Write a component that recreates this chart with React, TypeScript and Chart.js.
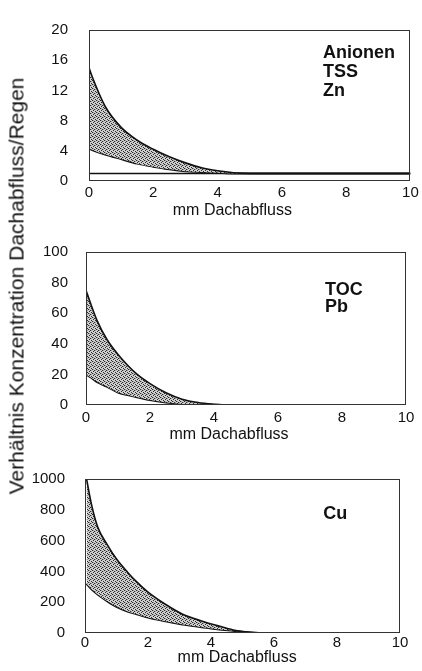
import React, { useEffect, useRef } from "react";
import { Chart, registerables } from "chart.js";

Chart.register(...registerables);

// ---------- data ----------
const xTicks = [0, 2, 4, 6, 8, 10];
const xTitle = "mm Dachabfluss";
const yTitle = "Verhältnis Konzentration Dachabfluss/Regen";

// Panel 1: Anionen / TSS / Zn
const p1Labels = ["Anionen", "TSS", "Zn"];
const p1YTicks = [0, 4, 8, 12, 16, 20];
const p1X = [0, 0.1, 0.5, 1, 1.5, 2, 2.5, 3, 3.5, 4, 4.5, 5, 10];
const p1Upper = [15, 13.8, 9.9, 7.1, 5.4, 4.2, 3.2, 2.4, 1.75, 1.35, 1.1, 1.0, 1.0];
const p1Lower = [4.3, 4.1, 3.5, 2.9, 2.3, 1.9, 1.55, 1.3, 1.2, 1.1, 1.0, 1.0, 1.0];
const p1BaseX = [0, 10];
const p1Base = [1, 1];

// Panel 2: TOC / Pb
const p2Labels = ["TOC", "Pb"];
const p2YTicks = [0, 20, 40, 60, 80, 100];
const p2X = [0, 0.15, 0.35, 0.65, 1, 1.3, 1.6, 2, 2.5, 3, 3.5, 4, 4.4, 10];
const p2Upper = [75, 66, 55, 43, 33, 26, 20, 14, 8, 3.8, 1.6, 0.5, 0, 0];
const p2Lower = [20, 18, 15, 12, 8.2, 6.5, 5, 3.2, 1.7, 0.7, 0.2, 0, 0, 0];

// Panel 3: Cu
const p3Labels = ["Cu"];
const p3YTicks = [0, 200, 400, 600, 800, 1000];
const p3X = [0.05, 0.2, 0.4, 0.7, 1, 1.35, 1.65, 2, 2.6, 3.1, 3.7, 4.2, 4.7, 5.1, 5.6, 10];
const p3Upper = [1000, 840, 690, 575, 480, 395, 330, 265, 180, 122, 78, 48, 20, 7, 0, 0];
const p3Lower = [320, 285, 250, 207, 170, 140, 122, 100, 74, 55, 38, 24, 14, 6, 0, 0];

// ---------- layout / style ----------
const FONT = "'Liberation Sans', Arial, Helvetica, sans-serif";

type PanelCfg = {
  top: number;
  height: number;
  left: number;
  right: number;
  padTop: number;
  areaBottom: number;
  yMax: number;
  yTicks: number[];
  yPad: number;
  xPad: number;
  titleX: number;
  titleY: number;
  xs: number[];
  upper: number[];
  lower: number[];
  baseX?: number[];
  base?: number[];
  labels: string[];
  labelAt: { x: number; y: number; dy: number };
};

const panels: PanelCfg[] = [
  {
    top: 0, height: 225, left: 89, right: 413, padTop: 17, areaBottom: 181,
    yMax: 20, yTicks: p1YTicks, yPad: 21, xPad: 3.2, titleX: 4.46, titleY: 211,
    xs: p1X, upper: p1Upper, lower: p1Lower, baseX: p1BaseX, base: p1Base,
    labels: p1Labels, labelAt: { x: 7.28, y: 16.95, dy: 19 },
  },
  {
    top: 225, height: 225, left: 86, right: 406, padTop: 18, areaBottom: 180,
    yMax: 100, yTicks: p2YTicks, yPad: 18, xPad: 4.2, titleX: 4.47, titleY: 210,
    xs: p2X, upper: p2Upper, lower: p2Lower,
    labels: p2Labels, labelAt: { x: 7.47, y: 75.3, dy: 17 },
  },
  {
    top: 450, height: 221, left: 85, right: 400, padTop: 17, areaBottom: 183,
    yMax: 1000, yTicks: p3YTicks, yPad: 20, xPad: 0.5, titleX: 4.83, titleY: 208,
    xs: p3X, upper: p3Upper, lower: p3Lower,
    labels: p3Labels, labelAt: { x: 7.56, y: 771, dy: 19 },
  },
];

function makePattern(): CanvasPattern | string {
  const c = document.createElement("canvas");
  c.width = 4;
  c.height = 4;
  const g = c.getContext("2d");
  if (!g) return "#b0b0b0";
  g.fillStyle = "#cfcfcf";
  g.fillRect(0, 0, 4, 4);
  g.fillStyle = "#2a2a2a";
  g.fillRect(0, 0, 1, 1);
  g.fillRect(2, 1, 1, 1);
  g.fillRect(1, 2, 1, 1);
  g.fillRect(3, 3, 1, 1);
  g.fillStyle = "#9a9a9a";
  g.fillRect(3, 1, 1, 1);
  g.fillRect(1, 0, 1, 1);
  const p = g.createPattern(c, "repeat");
  return p || "#b0b0b0";
}

const boxPlugin = {
  id: "boxPlugin",
  afterDraw(chart: any) {
    const { ctx, chartArea } = chart;
    ctx.save();
    ctx.strokeStyle = "#333";
    ctx.lineWidth = 1;
    ctx.strokeRect(
      Math.round(chartArea.left) + 0.5,
      Math.round(chartArea.top) + 0.5,
      Math.round(chartArea.right - chartArea.left) - 1,
      Math.round(chartArea.bottom - chartArea.top) - 1
    );
    ctx.restore();
  },
};

const labelPlugin = {
  id: "labelPlugin",
  afterDraw(chart: any, _args: any, opts: any) {
    const { ctx, scales } = chart;
    if (!opts || !opts.lines) return;
    const px = scales.x.getPixelForValue(opts.x);
    const py = scales.y.getPixelForValue(opts.y);
    ctx.save();
    ctx.fillStyle = "#111";
    ctx.font = `bold 18px ${FONT}`;
    ctx.textAlign = "left";
    ctx.textBaseline = "middle";
    opts.lines.forEach((t: string, i: number) => {
      ctx.fillText(t, px, py + i * opts.dy);
    });
    // x axis title
    ctx.font = `16px ${FONT}`;
    ctx.textAlign = "center";
    ctx.fillText(opts.title, scales.x.getPixelForValue(opts.titleX), opts.titleY);
    ctx.restore();
  },
};

function Panel({ cfg }: { cfg: PanelCfg }) {
  const ref = useRef<HTMLCanvasElement | null>(null);
  useEffect(() => {
    const canvas = ref.current;
    if (!canvas) return;
    const pattern = makePattern();
    const pts = (xs: number[], ys: number[]) => xs.map((x, i) => ({ x, y: ys[i] }));
    const datasets: any[] = [
      {
        data: pts(cfg.xs, cfg.upper),
        borderColor: "#111",
        borderWidth: 1.6,
        pointRadius: 0,
        cubicInterpolationMode: "monotone",
        fill: "+1",
        backgroundColor: pattern,
      },
      {
        data: pts(cfg.xs, cfg.lower),
        borderColor: "#111",
        borderWidth: 2,
        pointRadius: 0,
        cubicInterpolationMode: "monotone",
        fill: false,
      },
    ];
    if (cfg.baseX && cfg.base) {
      datasets.push({
        data: pts(cfg.baseX, cfg.base),
        borderColor: "#111",
        borderWidth: 1.4,
        pointRadius: 0,
        fill: false,
      });
    }
    const chart = new Chart(canvas, {
      type: "line",
      data: { datasets },
      plugins: [boxPlugin, labelPlugin],
      options: {
        animation: false,
        responsive: false,
        maintainAspectRatio: false,
        layout: { padding: { top: cfg.padTop, left: 0, right: 422 - cfg.right, bottom: 0 } },
        plugins: {
          legend: { display: false },
          tooltip: { enabled: false },
          labelPlugin: {
            lines: cfg.labels,
            x: cfg.labelAt.x,
            y: cfg.labelAt.y,
            dy: cfg.labelAt.dy,
            title: xTitle,
            titleX: cfg.titleX,
            titleY: cfg.titleY,
          },
        } as any,
        scales: {
          x: {
            type: "linear",
            min: 0,
            max: 10,
            grid: { display: false, drawTicks: false },
            border: { display: false },
            afterBuildTicks: (s: any) => {
              s.ticks = xTicks.map((v) => ({ value: v }));
            },
            afterFit: (s: any) => {
              s.height = cfg.height - cfg.areaBottom;
            },
            ticks: {
              color: "#111",
              padding: cfg.xPad,
              maxRotation: 0,
              autoSkip: false,
              font: { family: FONT, size: 15 },
              callback: (v: any) => String(v),
            },
          },
          y: {
            type: "linear",
            min: 0,
            max: cfg.yMax,
            grid: { display: false, drawTicks: false },
            border: { display: false },
            afterBuildTicks: (s: any) => {
              s.ticks = cfg.yTicks.map((v) => ({ value: v }));
            },
            afterFit: (s: any) => {
              s.width = cfg.left;
            },
            ticks: {
              color: "#111",
              padding: cfg.yPad,
              autoSkip: false,
              font: { family: FONT, size: 15 },
              callback: (v: any) => String(v),
            },
          },
        },
      } as any,
    });
    return () => chart.destroy();
  }, [cfg]);
  return (
    <canvas
      ref={ref}
      width={422}
      height={cfg.height}
      style={{ position: "absolute", left: 0, top: cfg.top, width: 422, height: cfg.height }}
    />
  );
}

export default function App() {
  return (
    <div style={{ position: "absolute", left: 0, top: 0, width: 422, height: 671, background: "#fff", overflow: "hidden" }}>
      {panels.map((p, i) => (
        <Panel key={i} cfg={p} />
      ))}
      <div
        style={{
          position: "absolute",
          left: 16,
          top: 286,
          transform: "translate(-50%, -50%) rotate(-90deg)",
          whiteSpace: "nowrap",
          fontFamily: FONT,
          fontSize: 21,
          color: "#111",
          lineHeight: 1,
        }}
      >
        {yTitle}
      </div>
    </div>
  );
}
